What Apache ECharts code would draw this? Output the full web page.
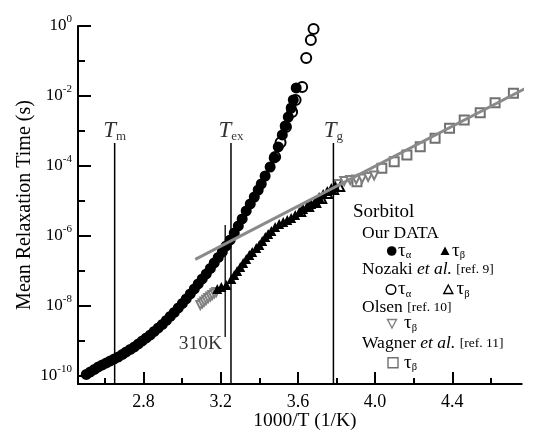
<!DOCTYPE html>
<html><head><meta charset="utf-8">
<script src="https://cdn.jsdelivr.net/npm/echarts@6/dist/echarts.min.js"></script>
<style>html,body{margin:0;padding:0;background:#fff}#c{width:534px;height:435px}</style>
</head><body><div id="c"></div>
<script>
// x = 1000/T (1/K), y = log10(mean relaxation time / s)
const ourAlpha = [[2.503,-9.957],[2.524,-9.886],[2.545,-9.814],[2.565,-9.743],[2.586,-9.686],[2.607,-9.629],[2.627,-9.571],[2.648,-9.514],[2.669,-9.457],[2.690,-9.386],[2.710,-9.314],[2.731,-9.243],[2.752,-9.171],[2.773,-9.086],[2.793,-9.0],[2.814,-8.914],[2.835,-8.829],[2.855,-8.729],[2.876,-8.629],[2.897,-8.529],[2.918,-8.414],[2.938,-8.3],[2.959,-8.186],[2.980,-8.057],[3.001,-7.929],[3.021,-7.8],[3.042,-7.657],[3.063,-7.514],[3.083,-7.371],[3.104,-7.229],[3.125,-7.086],[3.146,-6.929],[3.166,-6.771],[3.187,-6.614],[3.208,-6.457],[3.228,-6.286],[3.249,-6.114],[3.270,-5.914],[3.291,-5.714],[3.311,-5.514],[3.332,-5.286],[3.353,-5.086],[3.374,-4.886],[3.394,-4.686],[3.410,-4.514],[3.430,-4.286],[3.456,-4.029],[3.477,-3.771],[3.498,-3.457],[3.519,-3.114],[3.534,-2.857],[3.550,-2.6],[3.565,-2.343],[3.576,-2.114],[3.591,-1.771]];
const nozakiAlpha = [[3.482,-3.74],[3.510,-3.33],[3.538,-2.886],[3.570,-2.457],[3.588,-2.114],[3.622,-1.743],[3.643,-0.914],[3.667,-0.40],[3.681,-0.086]];
const ourBeta = [[3.182,-7.514],[3.203,-7.457],[3.229,-7.40],[3.255,-7.229],[3.270,-7.114],[3.285,-7.0],[3.301,-6.886],[3.316,-6.771],[3.332,-6.657],[3.348,-6.543],[3.363,-6.457],[3.384,-6.343],[3.400,-6.257],[3.415,-6.143],[3.431,-6.029],[3.446,-5.943],[3.462,-5.857],[3.482,-5.743],[3.503,-5.657],[3.524,-5.60],[3.545,-5.543],[3.565,-5.486],[3.586,-5.40],[3.607,-5.314],[3.627,-5.229],[3.648,-5.143],[3.669,-5.086],[3.690,-5.0],[3.710,-4.886],[3.731,-4.80],[3.752,-4.714],[3.773,-4.629],[3.793,-4.571]];
const nozakiBeta = [[3.617,-5.314],[3.658,-5.171],[3.695,-5.057],[3.726,-4.943],[3.757,-4.80],[3.788,-4.686],[3.819,-4.60]];
const olsenBeta = [[3.094,-7.971],[3.105,-7.92],[3.115,-7.871],[3.125,-7.82],[3.135,-7.771],[3.146,-7.73],[3.156,-7.686],[3.167,-7.64],[3.177,-7.60],[3.809,-4.514],[3.840,-4.429],[3.871,-4.40],[3.902,-4.386],[3.933,-4.357],[3.964,-4.314],[3.995,-4.271]];
const wagnerBeta = [[3.906,-4.449],[4.035,-4.066],[4.099,-3.877],[4.165,-3.686],[4.234,-3.449],[4.311,-3.209],[4.386,-2.923],[4.462,-2.686],[4.545,-2.477],[4.622,-2.191],[4.717,-1.923]];
const fitLine = [[3.068,-6.671],[4.793,-1.743]];
const refLines = [
  {sub:'m', x:2.650, top:-3.34, bottom:-10.23},
  {sub:'ex', x:3.253, top:-3.34, bottom:-10.23},
  {sub:'g', x:3.784, top:-3.34, bottom:-10.23}
];
const line310K = {text:'310K', x:3.223, top:-5.69, bottom:-8.89};
const xMajorTicks = [2.8,3.2,3.6,4.0,4.4];
const xMinorTicks = [2.6,3.0,3.4,3.8,4.2,4.6];
const yMajorTicks = [0,-2,-4,-6,-8,-10];
const yMinorTicks = [-1,-3,-5,-7,-9];

const SERIF = '"Liberation Serif", "DejaVu Serif", serif';
const chart = echarts.init(document.getElementById('c'), null, {renderer:'canvas'});

const GRID = {left:78, right:12.3, top:26, bottom:51};
const GRID_W = 534 - GRID.left - GRID.right;
const GRID_H = 435 - GRID.top - GRID.bottom;

const xBase = {type:'value', min:2.46, max:4.76, gridIndex:0, splitLine:{show:false}};
const yBase = {type:'value', min:-10.23, max:0, gridIndex:0, splitLine:{show:false}};

const series = [];
series.push({type:'scatter', name:'Nozaki alpha', data:nozakiAlpha, symbol:'emptyCircle', symbolSize:10,
  itemStyle:{color:'#000', borderColor:'#000', borderWidth:1.4, opacity:1}, z:2});
series.push({type:'scatter', name:'Wagner beta', data:wagnerBeta, symbol:'emptyRect', symbolSize:9,
  itemStyle:{color:'#707070', borderColor:'#707070', borderWidth:1.2, opacity:1}, z:2});
series.push({type:'scatter', name:'Olsen beta', data:olsenBeta, symbol:'emptyTriangle', symbolRotate:180, symbolSize:8,
  itemStyle:{color:'#808080', borderColor:'#808080', borderWidth:1.3, opacity:1}, z:2});
series.push({type:'scatter', name:'Our alpha', data:ourAlpha, symbol:'circle', symbolSize:11,
  itemStyle:{color:'#000', opacity:1}, z:3});
series.push({type:'scatter', name:'Nozaki beta', data:nozakiBeta, symbol:'emptyTriangle', symbolSize:8,
  itemStyle:{color:'#000', borderColor:'#000', borderWidth:1.2, opacity:1}, z:3});
series.push({type:'scatter', name:'Our beta', data:ourBeta, symbol:'triangle', symbolSize:10,
  itemStyle:{color:'#000', opacity:1}, z:3});
series.push({type:'line', name:'fit', data:fitLine, symbol:'none', clip:false,
  lineStyle:{color:'#8a8a8a', width:3}, z:5, silent:true});
refLines.forEach(r => {
  series.push({type:'line', data:[[r.x, r.top],[r.x, r.bottom]], symbol:'none',
    lineStyle:{color:'#000', width:1.5}, z:4, silent:true});
});
series.push({type:'line', data:[[line310K.x, line310K.top],[line310K.x, line310K.bottom]], symbol:'none',
  lineStyle:{color:'#000', width:1.3}, z:4, silent:true});
// annotation labels
series.push({type:'scatter', symbolSize:0, silent:true, z:6,
  data: refLines.map(r => [r.x, r.top]),
  label:{show:true, position:'top', distance:0, color:'#000',
    formatter: p => '{it|T}{sb|' + refLines[p.dataIndex].sub + '}',
    rich:{
      it:{fontFamily:SERIF, fontStyle:'italic', fontSize:23, lineHeight:24, verticalAlign:'bottom', color:'#000'},
      sb:{fontFamily:SERIF, fontSize:13, lineHeight:18, verticalAlign:'bottom', color:'#000'}
    }}
});
series.push({type:'scatter', symbolSize:0, silent:true, z:6,
  data:[[line310K.x, line310K.bottom]],
  label:{show:true, position:'left', distance:3, offset:[0,7], formatter:line310K.text,
    fontFamily:SERIF, fontSize:19.5, color:'#000'}
});

function legendSym(shape, cx, cy, filled, color){
  const s = {fill: filled ? color : '#fff', stroke: color, lineWidth: filled ? 0 : 1.4};
  if (shape === 'circle') return {type:'circle', shape:{cx:cx, cy:cy, r:4.8}, style:s, z:10};
  if (shape === 'tri') return {type:'polygon', shape:{points:[[cx,cy-4.5],[cx+4.5,cy+4],[cx-4.5,cy+4]]}, style:s, z:10};
  if (shape === 'dtri') return {type:'polygon', shape:{points:[[cx,cy+4.5],[cx+4.5,cy-4],[cx-4.5,cy-4]]}, style:s, z:10};
  return {type:'rect', shape:{x:cx-5, y:cy-5, width:10, height:10}, style:s, z:10};
}
const richLeg = {
  i:{fontFamily:SERIF, fontStyle:'italic', fontSize:17.5, fill:'#000'},
  r:{fontFamily:SERIF, fontSize:13.5, fill:'#000'},
  t:{fontFamily:SERIF, fontSize:19, lineHeight:20, verticalAlign:'middle', fill:'#000'},
  s:{fontFamily:SERIF, fontSize:10.5, lineHeight:10, verticalAlign:'bottom', fill:'#000'}
};
function legText(txt, x, y, size){
  return {type:'text', x:x, y:y, z:10, style:{text:txt, fontFamily:SERIF, fontSize:size||17.5, fill:'#000',
    verticalAlign:'middle', align:'left', rich:richLeg}};
}
const graphic = [
  legText('Sorbitol', 353, 212, 19),
  legText('Our DATA', 362, 233.5),
  legendSym('circle', 391.7, 251, true, '#000'), legText('{t|τ}{s|α}', 398, 251),
  legendSym('tri', 445, 251, true, '#000'), legText('{t|τ}{s|β}', 452, 251),
  legText('Nozaki {i|et al.} {r|[ref. 9]}', 362, 269),
  legendSym('circle', 391, 289.5, false, '#000'), legText('{t|τ}{s|α}', 398, 289.5),
  legendSym('tri', 448.3, 289.5, false, '#000'), legText('{t|τ}{s|β}', 456.5, 289.5),
  legText('Olsen {r|[ref. 10]}', 362, 307.5),
  legendSym('dtri', 392, 323.5, false, '#808080'), legText('{t|τ}{s|β}', 404, 323.5),
  legText('Wagner {i|et al.} {r|[ref. 11]}', 362, 343.5),
  legendSym('rect', 393, 362.7, false, '#707070'), legText('{t|τ}{s|β}', 404, 362.7)
];

const option = {
  backgroundColor:'#fff',
  animation:false,
  grid:{left:GRID.left, right:GRID.right, top:GRID.top, bottom:GRID.bottom, containLabel:false, outerBoundsMode:'none'},
  xAxis:[
    Object.assign({}, xBase, {
      position:'bottom',
      name:'1000/T (1/K)', nameLocation:'middle', nameGap:27, nameMoveOverlap:false,
      nameTextStyle:{fontFamily:SERIF, fontSize:19.5, color:'#000', padding:[0,0,0,10]},
      axisLine:{show:true, onZero:false, lineStyle:{color:'#000', width:2}},
      axisTick:{show:true, inside:true, length:12, customValues:xMajorTicks, lineStyle:{color:'#000', width:2}},
      axisLabel:{show:true, customValues:xMajorTicks, margin:9, fontFamily:SERIF, fontSize:18, color:'#000',
        formatter:v => Number(v).toFixed(1)}
    }),
    // minor ticks: a second bottom-edge axis without line or labels
    Object.assign({}, xBase, {
      position:'top', offset:-GRID_H,
      axisLine:{show:false, onZero:false},
      axisTick:{show:true, inside:false, length:6, customValues:xMinorTicks, lineStyle:{color:'#000', width:2}},
      axisLabel:{show:false}
    })
  ],
  yAxis:[
    Object.assign({}, yBase, {
      position:'left',
      name:'Mean Relaxation Time (s)', nameLocation:'middle', nameGap:43, nameMoveOverlap:false,
      nameTextStyle:{fontFamily:SERIF, fontSize:20, color:'#000'},
      axisLine:{show:true, onZero:false, lineStyle:{color:'#000', width:2}},
      axisTick:{show:true, inside:true, length:13, customValues:yMajorTicks, lineStyle:{color:'#000', width:2}},
      axisLabel:{show:true, customValues:yMajorTicks, margin:6, color:'#000',
        formatter:v => '{b|10}{s|' + Math.round(v) + '}',
        rich:{
          b:{fontFamily:SERIF, fontSize:17, lineHeight:24, verticalAlign:'middle', color:'#000'},
          s:{fontFamily:SERIF, fontSize:11, lineHeight:11, verticalAlign:'top', color:'#000'}
        }}
    }),
    // minor ticks: a second left-edge axis without line or labels
    Object.assign({}, yBase, {
      position:'right', offset:-GRID_W,
      axisLine:{show:false, onZero:false},
      axisTick:{show:true, inside:false, length:7, customValues:yMinorTicks, lineStyle:{color:'#000', width:2}},
      axisLabel:{show:false}
    })
  ],
  series: series,
  graphic: graphic
};
chart.setOption(option);
</script>
</body></html>
